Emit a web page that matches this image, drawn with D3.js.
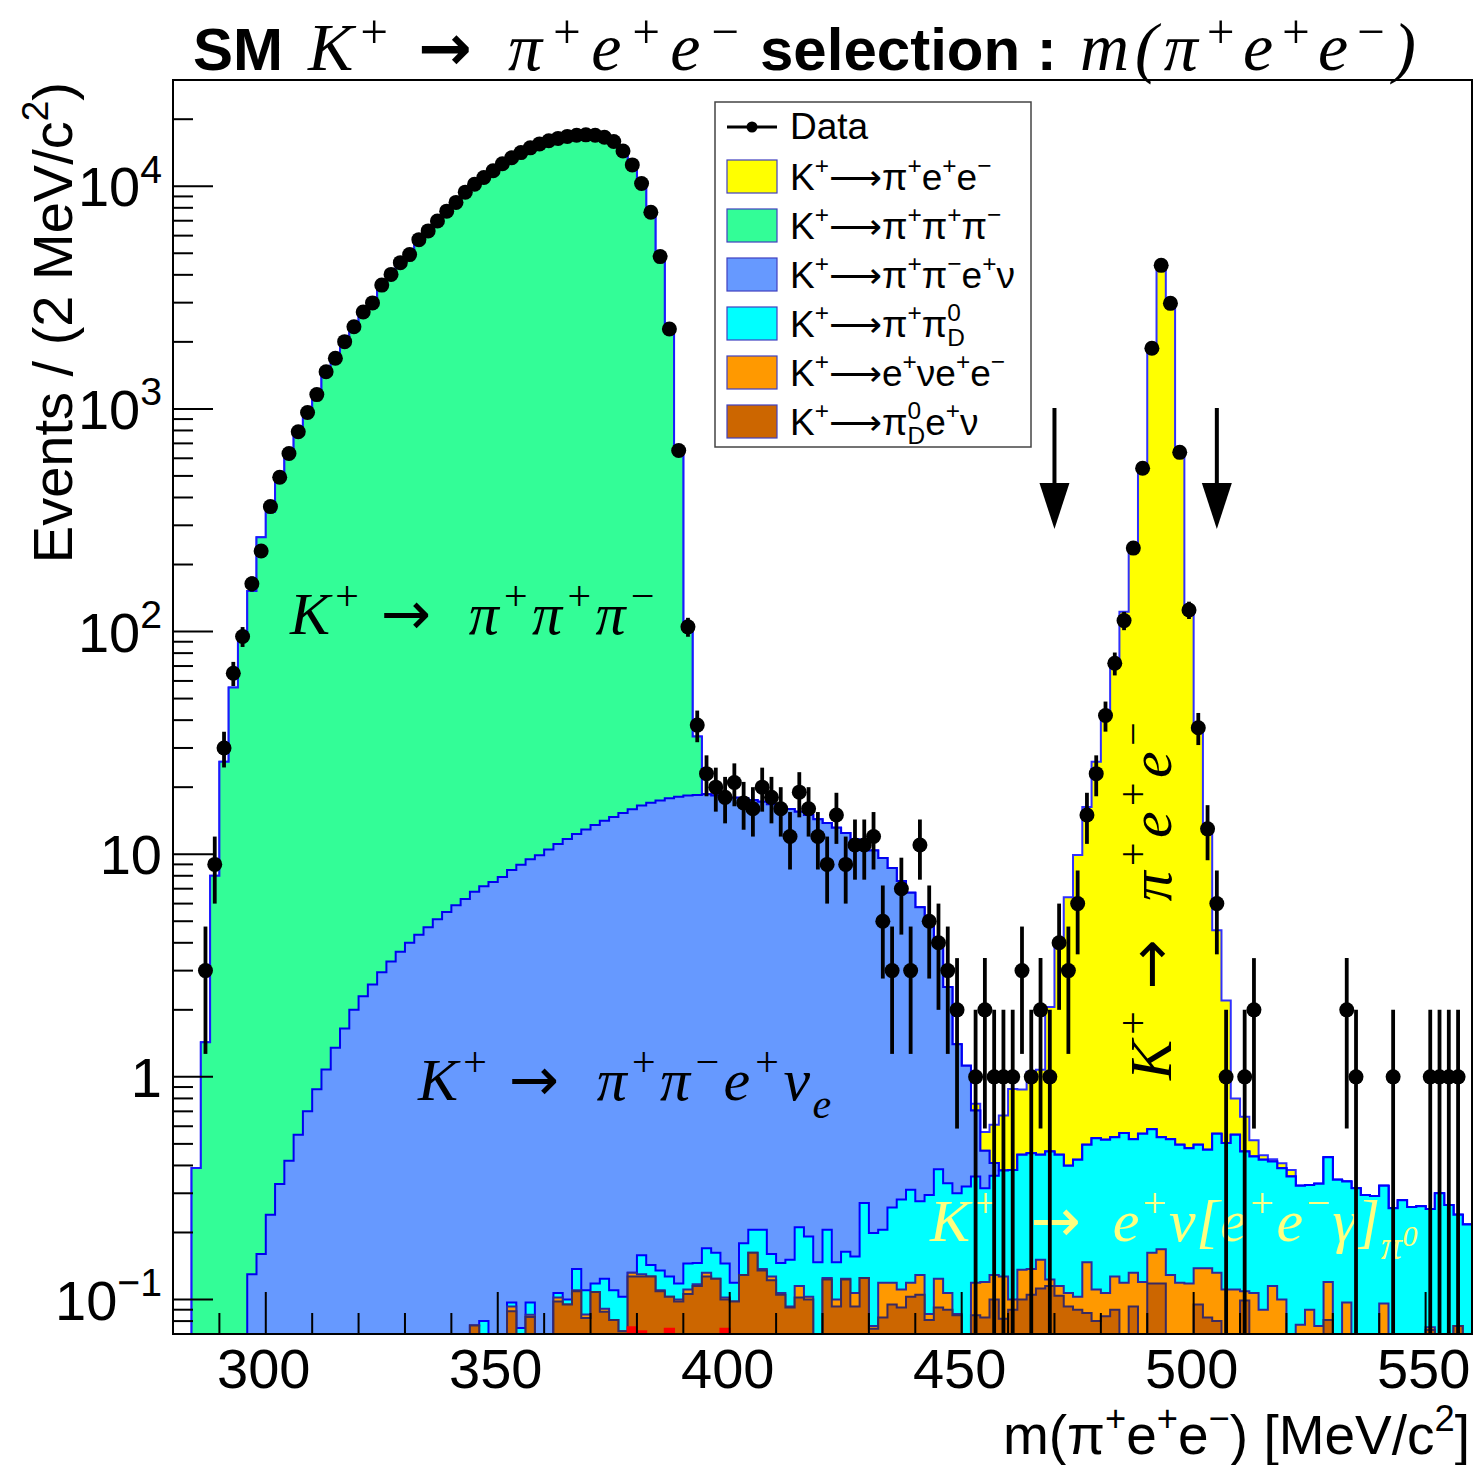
<!DOCTYPE html>
<html>
<head>
<meta charset="UTF-8">
<title>SM K+ -> pi+ e+ e- selection : m(pi+ e+ e-)</title>
<script src="https://d3js.org/d3.v7.min.js"></script>
<style>
  body { margin: 0; background: #fff; }
  text { white-space: pre; }
</style>
</head>
<body>
<script>
// 140 bins of 2 MeV/c^2, bin i covers [280 + 2i, 282 + 2i)
const binStart = 280, binWidth = 2;

// observed events per bin
const dataCounts = [
  0, 0, 0, 3, 9, 30, 65, 95, 164, 230, 364, 493, 630, 789, 964, 1159, 1469, 1687, 2004, 2339,
  2723, 2993, 3597, 4018, 4538, 4930, 5754, 6300, 6982, 7727, 8459, 9406, 10200, 10940, 11730, 12620, 13420, 14160, 14870, 15490,
  16000, 16400, 16740, 16950, 17010, 16950, 16600, 15880, 14390, 12470, 10290, 7640, 4830, 2286, 650, 105, 38, 23, 20, 18,
  21, 17, 16, 20, 18, 16, 12, 19, 16, 12, 9, 15, 9, 11, 11, 12, 5, 3, 7, 3,
  11, 5, 4, 3, 2, 0, 1, 2, 1, 1, 1, 3, 1, 2, 1, 4, 3, 6, 15, 23,
  42, 72, 112, 237, 541, 1871, 4413, 2978, 638, 125, 37, 13, 6, 1, 0, 1, 2, 0, 0, 0,
  0, 0, 0, 0, 0, 0, 2, 1, 0, 0, 0, 1, 0, 0, 0, 1, 1, 1, 1, 0
];

// K+ -> pi+ e+ e-  (signal)
const kpiee = [
  0, 0, 0, 0, 0, 0, 0, 0, 0, 0, 0, 0, 0, 0, 0, 0, 0, 0, 0, 0,
  0, 0, 0, 0, 0, 0, 0, 0, 0, 0, 0, 0, 0, 0, 0, 0, 0, 0, 0, 0,
  0, 0, 0, 0, 0, 0, 0, 0, 0, 0, 0, 0, 0, 0, 0, 0, 0, 0, 0, 0,
  0, 0, 0, 0, 0, 0, 0, 0, 0, 0, 0, 0, 0, 0, 0, 0, 0, 0, 0, 0,
  0, 0, 0, 0, 0, 0, 0.05, 0.1, 0.2, 0.29, 0.5, 0.43, 0.6, 0.63, 1.6, 3.6, 6.0, 9.5, 15.8, 25.5,
  41, 70, 122, 228, 550, 1860, 4170, 2890, 636, 124, 36, 12.5, 4.0, 1.7, 0.25, 0.2, 0.08, 0.02, 0.01, 0.02,
  0.025, 0, 0, 0, 0, 0, 0, 0, 0, 0, 0, 0, 0, 0, 0, 0, 0, 0, 0, 0
];

// K+ -> pi+ pi+ pi-
const k3pi = [
  0, 0, 0.39, 1.43, 8.0, 26, 56, 98, 152, 265, 345, 480, 640, 769, 949, 1179, 1419, 1699, 1978, 2328,
  2698, 3077, 3517, 3977, 4476, 4996, 5616, 6245, 6915, 7645, 8394, 9244, 10093, 10943, 11792, 12642, 13442, 14191, 14890, 15490,
  15989, 16439, 16738, 16937, 16987, 16886, 16485, 15685, 14284, 12284, 9983, 7483, 4683, 2232, 622, 86, 15.3, 0, 0, 0,
  0, 0, 0, 0, 0, 0, 0, 0, 0, 0, 0, 0, 0, 0, 0, 0, 0, 0, 0, 0,
  0, 0, 0, 0, 0, 0, 0, 0, 0, 0, 0, 0, 0, 0, 0, 0, 0, 0, 0, 0,
  0, 0, 0, 0, 0, 0, 0, 0, 0, 0, 0, 0, 0, 0, 0, 0, 0, 0, 0, 0,
  0, 0, 0, 0, 0, 0, 0, 0, 0, 0, 0, 0, 0, 0, 0, 0, 0, 0, 0, 0
];

// K+ -> pi+ pi- e+ nu
const ke4 = [
  0, 0, 0, 0, 0, 0, 0, 0, 0.13, 0.16, 0.24, 0.33, 0.42, 0.55, 0.7, 0.88, 1.08, 1.35, 1.65, 2.0,
  2.3, 2.6, 2.95, 3.3, 3.65, 4.0, 4.35, 4.7, 5.1, 5.5, 5.9, 6.3, 6.7, 7.1, 7.5, 7.9, 8.4, 8.9, 9.4, 9.9,
  10.5, 11.0, 11.6, 12.2, 12.8, 13.4, 14.0, 14.6, 15.2, 15.8, 16.4, 16.9, 17.3, 17.7, 18.0, 18.2, 18.3, 18.4, 18.2, 18.0,
  17.8, 17.6, 17.3, 17.0, 16.6, 16.2, 15.8, 15.3, 14.8, 14.2, 13.6, 13.0, 12.3, 11.5, 10.9, 10.2, 9.4, 8.4, 7.3, 6.4,
  5.5, 4.6, 3.6, 2.2, 1.1, 0.8, 0.35, 0.15, 0.05, 0, 0, 0, 0, 0, 0, 0, 0, 0, 0, 0,
  0, 0, 0, 0, 0, 0, 0, 0, 0, 0, 0, 0, 0, 0, 0, 0, 0, 0, 0, 0,
  0, 0, 0, 0, 0, 0, 0, 0, 0, 0, 0, 0, 0, 0, 0, 0, 0, 0, 0, 0
];

// K+ -> pi+ pi0_D
const kpipiD = [
  0, 0, 0, 0, 0, 0, 0, 0, 0, 0, 0, 0, 0, 0, 0, 0, 0, 0, 0, 0,
  0, 0, 0, 0, 0, 0, 0, 0, 0, 0, 0, 0, 0, 0.080, 0, 0, 0.004, 0.0745, 0.0115, 0,
  0, 0.005, 0.005, 0.027, 0.0245, 0.010, 0.033, 0.029, 0.031, 0, 0.028, 0.016, 0.025, 0.024, 0.018, 0.034, 0.029, 0.038, 0.038, 0.043,
  0.021, 0.05, 0.044, 0.069, 0.033, 0.039, 0.058, 0.096, 0.089, 0.147, 0.081, 0.047, 0.04, 0.049, 0.146, 0.123, 0.087, 0.14, 0.17, 0.192,
  0.147, 0.209, 0.261, 0.226, 0.214, 0.322, 0.238, 0.196, 0.231, 0.253, 0.282, 0.311, 0.317, 0.296, 0.339, 0.332, 0.292, 0.321, 0.348, 0.419,
  0.415, 0.409, 0.44, 0.393, 0.435, 0.42, 0.368, 0.396, 0.376, 0.36, 0.357, 0.332, 0.423, 0.393, 0.438, 0.353, 0.332, 0.334, 0.302, 0.289,
  0.357, 0.247, 0.237, 0.255, 0.316, 0.345, 0.242, 0.316, 0.295, 0.292, 0.228, 0.257, 0.279, 0.260, 0.262, 0.18, 0.300, 0.266, 0.164, 0.217
];

// K+ -> e+ nu e+ e-
const kenuee = [
  0, 0, 0, 0, 0, 0, 0, 0, 0, 0, 0, 0, 0, 0, 0, 0, 0, 0, 0, 0,
  0, 0, 0, 0, 0, 0, 0, 0, 0, 0, 0, 0, 0, 0, 0, 0, 0.0045, 0, 0.002, 0,
  0, 0.004, 0, 0.001, 0.003, 0, 0.003, 0, 0, 0.005, 0.003, 0, 0.001, 0, 0.002, 0.005, 0.002, 0.005, 0, 0.002,
  0, 0, 0, 0.002, 0.005, 0.002, 0.001, 0.013, 0.003, 0, 0.002, 0.007, 0.001, 0.014, 0, 0.002, 0.036, 0.024, 0.019, 0.016,
  0.024, 0.005, 0.032, 0.017, 0.001, 0, 0.034, 0.037, 0.029, 0.045, 0.01, 0.036, 0.032, 0.039, 0.008, 0.011, 0.014, 0.013, 0.06, 0.031,
  0.023, 0.037, 0.119, 0.039, 0.12, 0.044, 0.05, 0.129, 0.119, 0.118, 0.043, 0.055, 0.052, 0.111, 0.111, 0.01, 0.107, 0.09, 0.115, 0.10,
  0, 0.077, 0.09, 0.076, 0.039, 0, 0.097, 0, 0, 0, 0.096, 0, 0, 0, 0, 0.002, 0, 0, 0, 0
];

// K+ -> pi0_D e+ nu
const kpi0Denu = [
  0, 0, 0, 0, 0, 0, 0, 0, 0, 0, 0, 0, 0, 0, 0, 0, 0, 0, 0, 0,
  0, 0, 0, 0, 0, 0, 0, 0, 0, 0, 0, 0, 0.0765, 0, 0, 0, 0.0885, 0, 0.0834, 0,
  0, 0.098, 0.095, 0.109, 0.0826, 0.108, 0.088, 0.081, 0.072, 0.052, 0.055, 0.127, 0.109, 0.029, 0.098, 0.106, 0.115, 0.127, 0.124, 0.026,
  0.098, 0.129, 0.162, 0.135, 0.122, 0.105, 0.092, 0.102, 0.100, 0, 0.123, 0.093, 0.123, 0.093, 0.125, 0.074, 0.083, 0.095, 0.092, 0.103,
  0.105, 0.081, 0.092, 0.090, 0.085, 0, 0.085, 0.083, 0.10, 0.082, 0.09, 0.10, 0.105, 0.112, 0.115, 0.104, 0.093, 0.09, 0.087, 0.08,
  0.084, 0.09, 0, 0.093, 0, 0.118, 0.118, 0, 0, 0, 0.095, 0.083, 0.08, 0, 0, 0.099, 0, 0, 0, 0,
  0, 0, 0, 0, 0.081, 0, 0, 0, 0, 0, 0, 0, 0, 0, 0, 0.073, 0, 0, 0.076, 0
];

// small extra component at the very bottom (not in legend)
const other = [
  0, 0, 0, 0, 0, 0, 0, 0, 0, 0, 0, 0, 0, 0, 0, 0, 0, 0, 0, 0,
  0, 0, 0, 0, 0, 0, 0, 0, 0, 0, 0, 0, 0, 0, 0, 0, 0, 0, 0, 0,
  0, 0, 0, 0, 0, 0, 0, 0, 0, 0.075, 0.072, 0, 0, 0.074, 0, 0, 0, 0, 0, 0.074,
  0, 0, 0, 0, 0, 0, 0, 0, 0, 0, 0, 0, 0, 0, 0, 0, 0, 0, 0, 0,
  0, 0, 0, 0, 0, 0, 0, 0, 0, 0, 0, 0, 0, 0, 0, 0, 0, 0, 0, 0,
  0, 0, 0, 0, 0, 0, 0, 0, 0, 0, 0, 0, 0, 0, 0, 0, 0, 0, 0, 0,
  0, 0, 0, 0, 0, 0, 0, 0, 0, 0, 0, 0, 0, 0, 0, 0, 0, 0, 0, 0
];

const legendLabels = [
  "K^{+}⟶π^{+}e^{+}e^{−}",
  "K^{+}⟶π^{+}π^{+}π^{−}",
  "K^{+}⟶π^{+}π^{−}e^{+}ν",
  "K^{+}⟶π^{+}π^{0}_{D}",
  "K^{+}⟶e^{+}νe^{+}e^{−}",
  "K^{+}⟶π^{0}_{D}e^{+}ν"
];
const xTickValues = [300, 350, 400, 450, 500, 550];
const yTickValues = [0.1, 1, 10, 100, 1000, 10000];
const yTickLabels = ["10^{−1}", "1", "10", "10^{2}", "10^{3}", "10^{4}"];
const cutLow = 470, cutHigh = 505;

// ---------------------------------------------------------------
const width = 1477, height = 1465;
const frame = { left: 173, right: 1472, top: 80, bottom: 1334 };
const sans = "'Liberation Sans', Arial, Helvetica, sans-serif";
const serif = "'Liberation Serif', 'Times New Roman', serif";
const arrowFont = "'DejaVu Sans', sans-serif";

const x = d3.scaleLinear().domain([280, 560]).range([frame.left, frame.right]);
const y = d3.scaleLog().domain([0.07, 30000]).range([frame.bottom, frame.top]);

const stackKeys = ["other", "kpi0Denu", "kenuee", "kpipiD", "ke4", "k3pi", "kpiee"];
const mc = { other, kpi0Denu, kenuee, kpipiD, ke4, k3pi, kpiee };
const style = {
  kpiee:    { fill: "#ffff00", line: "#3030ff" },
  k3pi:     { fill: "#33fd97", line: "#1a1aff" },
  ke4:      { fill: "#6699ff", line: "#0000f0" },
  kpipiD:   { fill: "#00ffff", line: "#0000ff" },
  kenuee:   { fill: "#ff9900", line: "#2a2aa0" },
  kpi0Denu: { fill: "#cc6600", line: "#3a2a60" },
  other:    { fill: "#ff0000", line: "#ff0000" }
};

const rows = dataCounts.map((_, i) => {
  const r = { lo: binStart + i * binWidth };
  stackKeys.forEach(k => r[k] = mc[k][i]);
  return r;
});
const series = d3.stack().keys(stackKeys)(rows);

const svg = d3.select("body").append("svg")
  .attr("width", width).attr("height", height)
  .style("background", "#fff");

svg.append("clipPath").attr("id", "plot")
  .append("rect")
  .attr("x", frame.left).attr("y", frame.top)
  .attr("width", frame.right - frame.left).attr("height", frame.bottom - frame.top);

// TLatex-like helper: a^{sup}, a_{sub}; "→" drawn with a font that has a proper arrow
function latex(parent, str, fs, opt) {
  opt = Object.assign({ supScale: 0.66, supShift: 0.42, subShift: 0.3 }, opt || {});
  let cur = 0, prevSup = null;
  const tokens = str.split(/(\^\{[^}]*\}|_\{[^}]*\})/).filter(s => s.length);
  tokens.forEach(tok => {
    let mode = null, s = tok;
    if (tok.startsWith("^{")) { mode = "sup"; s = tok.slice(2, -1); }
    else if (tok.startsWith("_{")) { mode = "sub"; s = tok.slice(2, -1); }
    const target = mode === "sup" ? -opt.supShift * fs : mode === "sub" ? opt.subShift * fs : 0;
    s.split(/(→)/).filter(q => q.length).forEach((piece, j) => {
      const ts = parent.append("tspan").attr("dy", j === 0 ? target - cur : 0).text(piece);
      if (mode) ts.attr("font-size", opt.supScale * fs);
      if (piece === "→") ts.attr("font-family", arrowFont).attr("font-style", "normal");
      if (j === 0 && mode === "sub" && prevSup) ts.attr("dx", -prevSup.node().getComputedTextLength());
      if (j === 0) prevSup = mode === "sup" ? ts : null;
    });
    cur = target;
  });
}

// ---- stacked histograms (top cumulative first, like THStack) ----
const stepLine = d3.line().x(d => d[0]).y(d => d[1]);
function stepPoints(s) {
  const pts = [[x(binStart), y(0.06)]];
  s.forEach((p, i) => {
    const lo = binStart + i * binWidth;
    const yy = y(Math.max(p[1], 0.06));
    pts.push([x(lo), yy], [x(lo + binWidth), yy]);
  });
  pts.push([x(binStart + s.length * binWidth), y(0.06)]);
  return pts;
}

const plot = svg.append("g").attr("clip-path", "url(#plot)");
series.slice().reverse().forEach(s => {
  plot.append("path")
    .attr("d", stepLine(stepPoints(s)) + "Z")
    .attr("fill", style[s.key].fill)
    .attr("stroke", style[s.key].line)
    .attr("stroke-width", 2)
    .attr("stroke-linejoin", "miter");
});

// ---- annotations ----
function annot(px, py, str, fs, color, rotate, ls) {
  const t = plot.append("text")
    .attr("font-family", serif).attr("font-style", "italic")
    .attr("font-size", fs).attr("fill", color)
    .attr("letter-spacing", ls);
  if (rotate) t.attr("transform", `translate(${px},${py}) rotate(-90)`);
  else t.attr("x", px).attr("y", py);
  latex(t, str, fs, { supScale: 0.7, supShift: 0.4 });
  return t;
}
annot(290, 634, "K^{+} →  π^{+}π^{+}π^{−}", 60, "#000", false, 2.5);
annot(418, 1100, "K^{+} →  π^{+}π^{−}e^{+}ν_{e}", 60, "#000", false, 2.5);
annot(1171, 1080, "K^{+} →  π^{+}e^{+}e^{−}", 60, "#000", true, 2.5);
const yAnn = annot(930, 1241, "K^{+}  →  e^{+}ν[e^{+}e^{−}γ]_{π}", 60, "#ffff80", false, 0.6);
yAnn.append("tspan").attr("dy", -0.22 * 60).attr("font-size", 0.5 * 60).text("0");

// ---- data points ----
const pts = rows.map((r, i) => ({ m: r.lo + binWidth / 2, n: dataCounts[i] })).filter(d => d.n > 0);
const dataG = plot.append("g");
dataG.selectAll("line").data(pts).enter().append("line")
  .attr("x1", d => x(d.m)).attr("x2", d => x(d.m))
  .attr("y1", d => y(d.n + Math.sqrt(d.n)))
  .attr("y2", d => y(Math.max(d.n - Math.sqrt(d.n), 0.05)))
  .attr("stroke", "#000").attr("stroke-width", 3.8);
dataG.selectAll("circle").data(pts).enter().append("circle")
  .attr("cx", d => x(d.m)).attr("cy", d => y(d.n)).attr("r", 7.5)
  .attr("fill", "#000");

// ---- cut arrows ----
[cutLow, cutHigh].forEach(c => {
  const ax = x(c);
  svg.append("line").attr("x1", ax).attr("x2", ax).attr("y1", 408).attr("y2", 492)
    .attr("stroke", "#000").attr("stroke-width", 4);
  svg.append("path")
    .attr("d", `M${ax - 15},483L${ax + 15},483L${ax},529Z`)
    .attr("fill", "#000");
});

// ---- frame & axes ----
svg.append("rect")
  .attr("x", frame.left).attr("y", frame.top)
  .attr("width", frame.right - frame.left).attr("height", frame.bottom - frame.top)
  .attr("fill", "none").attr("stroke", "#000").attr("stroke-width", 2);

const axisG = svg.append("g").attr("stroke", "#000").attr("stroke-width", 2);
// x ticks
d3.range(290, 561, 10).forEach(v => {
  const major = v % 50 === 0;
  axisG.append("line").attr("x1", x(v)).attr("x2", x(v))
    .attr("y1", frame.bottom).attr("y2", frame.bottom - (major ? 42 : 21));
});
svg.selectAll(".xlab").data(xTickValues).enter().append("text")
  .attr("x", d => x(d) - 2).attr("y", 1388)
  .attr("text-anchor", "middle").attr("font-family", sans).attr("font-size", 56)
  .text(d => d);

// y ticks
const yMinor = [];
[0.01, 0.1, 1, 10, 100, 1000, 10000].forEach(dec => {
  d3.range(2, 10).forEach(k => {
    const v = k * dec;
    if (v > 0.07 && v < 30000) yMinor.push(v);
  });
});
yMinor.forEach(v => {
  axisG.append("line").attr("x1", frame.left).attr("x2", frame.left + 20)
    .attr("y1", y(v)).attr("y2", y(v));
});
yTickValues.forEach((v, i) => {
  axisG.append("line").attr("x1", frame.left).attr("x2", frame.left + 40)
    .attr("y1", y(v)).attr("y2", y(v));
  const t = svg.append("text")
    .attr("x", 162).attr("y", y(v) + 20)
    .attr("text-anchor", "end").attr("font-family", sans).attr("font-size", 56);
  latex(t, yTickLabels[i], 56, { supScale: 0.7 });
});

// axis titles
const xt = svg.append("text").attr("x", 1470).attr("y", 1454)
  .attr("text-anchor", "end").attr("font-family", sans).attr("font-size", 55);
latex(xt, "m(π^{+}e^{+}e^{−}) [MeV/c^{2}]", 55);

const yt = svg.append("text").attr("transform", "translate(72,82) rotate(-90)")
  .attr("text-anchor", "end").attr("font-family", sans).attr("font-size", 56);
latex(yt, "Events / (2 MeV/c^{2})", 56);

// title, placed piece by piece like the ROOT title
const titleParts = [
  { x: 193, s: "SM", fam: sans, bold: true, italic: false, fs: 60, ls: 0 },
  { x: 308, s: "K^{+}", fam: serif, bold: false, italic: true, fs: 68, ls: 4 },
  { x: 418, s: "→", fam: arrowFont, bold: true, italic: false, fs: 64, ls: 0 },
  { x: 508, s: "π^{+}e^{+}e^{−}", fam: serif, bold: false, italic: true, fs: 68, ls: 8 },
  { x: 760, s: "selection :", fam: sans, bold: true, italic: false, fs: 60, ls: 0 },
  { x: 1080, s: "m(π^{+}e^{+}e^{−})", fam: serif, bold: false, italic: true, fs: 68, ls: 6 }
];
titleParts.forEach(p => {
  const t = svg.append("text").attr("x", p.x).attr("y", 70)
    .attr("font-family", p.fam).attr("font-size", p.fs)
    .attr("font-weight", p.bold ? "bold" : "normal")
    .attr("font-style", p.italic ? "italic" : "normal")
    .attr("letter-spacing", p.ls);
  if (p.s === "→") t.text(p.s);
  else latex(t, p.s, p.fs, { supScale: 0.72, supShift: 0.32 });
});

// ---- legend ----
const lg = svg.append("g");
lg.append("rect").attr("x", 715).attr("y", 102).attr("width", 316).attr("height", 345)
  .attr("fill", "#fff").attr("stroke", "#444").attr("stroke-width", 1.5);
lg.append("line").attr("x1", 727).attr("x2", 777).attr("y1", 127).attr("y2", 127)
  .attr("stroke", "#000").attr("stroke-width", 3);
lg.append("circle").attr("cx", 752).attr("cy", 127).attr("r", 5.5).attr("fill", "#000");
lg.append("text").attr("x", 790).attr("y", 139).attr("font-family", sans).attr("font-size", 37).text("Data");

const legendKeys = ["kpiee", "k3pi", "ke4", "kpipiD", "kenuee", "kpi0Denu"];
legendKeys.forEach((k, i) => {
  const cy = 176 + i * 49;
  lg.append("rect").attr("x", 727).attr("y", cy - 16).attr("width", 50).attr("height", 33)
    .attr("fill", style[k].fill).attr("stroke", "#4040c0").attr("stroke-width", 1.2);
  const t = lg.append("text").attr("x", 790).attr("y", cy + 14)
    .attr("font-family", sans).attr("font-size", 37);
  latex(t, legendLabels[i], 37, { subShift: 0.25 });
});
</script>
</body>
</html>
